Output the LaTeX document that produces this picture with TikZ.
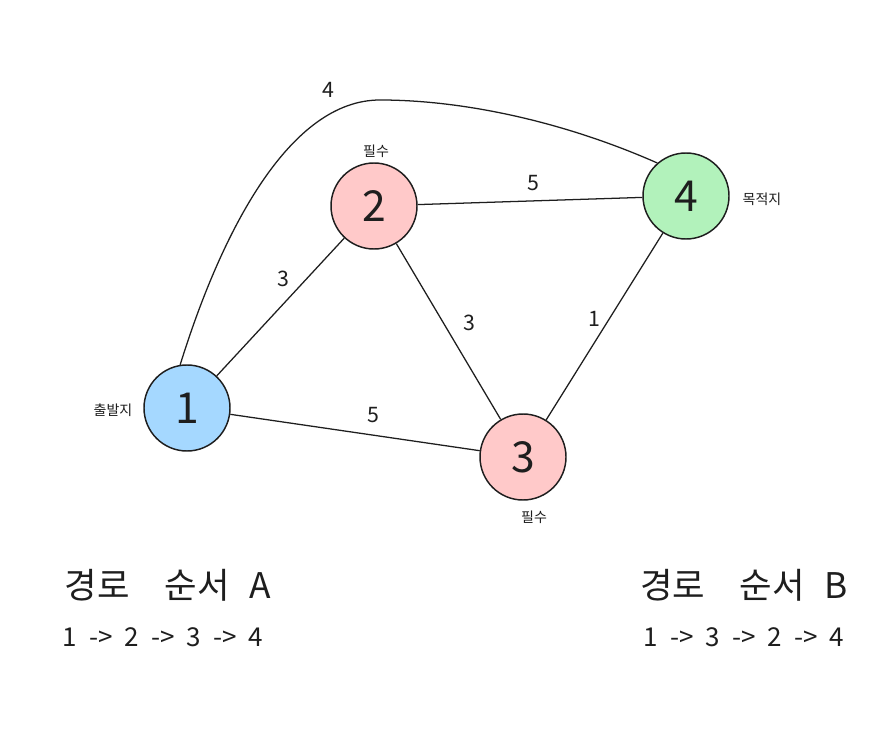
\documentclass[tikz,border=0pt]{standalone}
\usepackage{fontspec}
\setmainfont{Noto Sans CJK KR}
\definecolor{ink}{HTML}{1E1E1E}
\definecolor{cblue}{HTML}{A5D8FF}
\definecolor{cpink}{HTML}{FFC9C9}
\definecolor{cgreen}{HTML}{B2F2BB}
\newcommand{\gapw}{\hspace{9pt}}
\begin{document}
\begin{tikzpicture}[x=0.75pt,y=-0.75pt,
  vert/.style={circle,draw=ink,line width=1.1pt,minimum size=64.5pt,inner sep=0pt,text=ink,font=\fontsize{32}{32}\selectfont},
  edge/.style={draw=ink,line width=0.95pt},
  elab/.style={text=ink,font=\fontsize{16}{16}\selectfont,inner sep=0pt},
  slab/.style={text=ink,font=\fontsize{10.5}{10.5}\selectfont,inner sep=0pt},
  title/.style={text=ink,font=\fontsize{26.5}{26.5}\selectfont,inner sep=0pt},
  seq/.style={text=ink,font=\fontsize{19.5}{19.5}\selectfont,inner sep=0pt}]
\useasboundingbox[fill=white] (0,0) rectangle (887,748);
\node[vert,fill=cblue] (n1) at (187,408) {1};
\node[vert,fill=cpink] (n2) at (374,206) {2};
\node[vert,fill=cpink] (n3) at (523,457) {3};
\node[vert,fill=cgreen] (n4) at (686,196) {4};
\coordinate (top) at (380,100);
\draw[edge] (n1) -- (n2);
\draw[edge] (n1) -- (n3);
\draw[edge] (n2) -- (n3);
\draw[edge] (n2) -- (n4);
\draw[edge] (n3) -- (n4);
\draw[edge] (n1.99) .. controls (222,230) and (290,100) .. (top)
  .. controls (460,100) and (560,120) .. (n4.131);
\node[elab] (l14) at (328,90) {4};
\node[elab] (l24) at (533,183) {5};
\node[elab] (l12) at (283,279) {3};
\node[elab] (l23) at (469,323) {3};
\node[elab] (l34) at (594,319) {1};
\node[elab] (l13) at (373,415) {5};
\node[slab] (s2) at (376,151) {필수};
\node[slab] (s3) at (534,517) {필수};
\node[slab] (s4) at (762,199) {목적지};
\node[slab] (s1) at (113,410) {출발지};
\node[title] (ta) at (168,585) {경로\hspace{26pt}순서\hspace{15pt}A};
\node[title] (tb) at (744,585) {경로\hspace{26pt}순서\hspace{15pt}B};
\node[seq] (qa) at (163,637) {1\gapw->\gapw2\gapw->\gapw3\gapw->\gapw4};
\node[seq] (qb) at (744,637) {1\gapw->\gapw3\gapw->\gapw2\gapw->\gapw4};
\end{tikzpicture}
\end{document}
